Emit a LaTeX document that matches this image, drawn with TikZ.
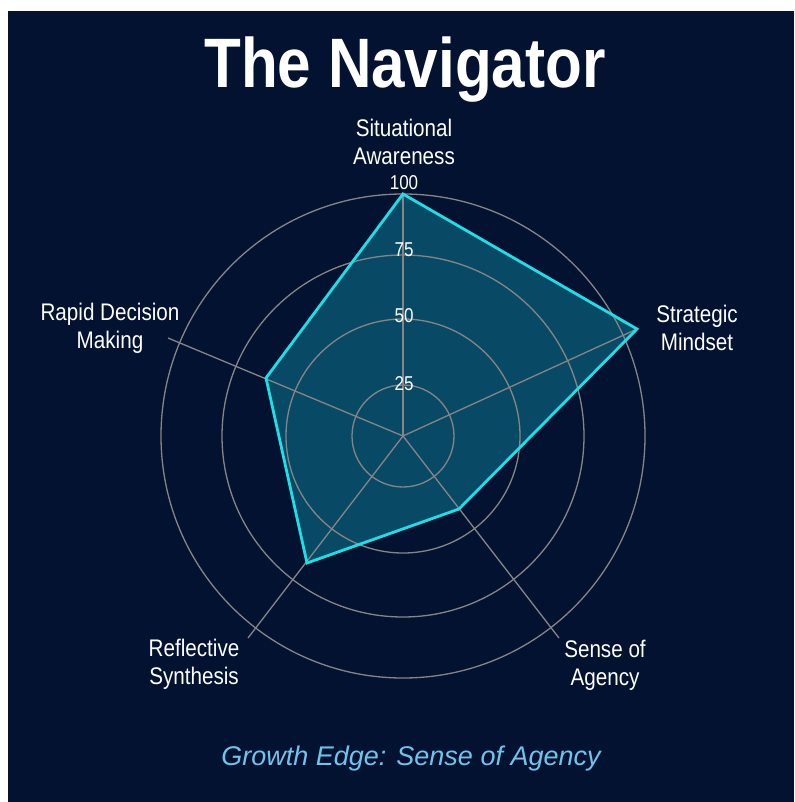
\documentclass[tikz,border=0pt]{standalone}
\usepackage{fontspec}
\setmainfont{Liberation Sans}
\newfontfamily\titlefont[FakeStretch=0.86]{Liberation Sans}
\newfontfamily\labfont[FakeStretch=0.86]{Liberation Sans}
\newfontfamily\tickfont[FakeStretch=0.85]{Liberation Sans}
\definecolor{navy}{RGB}{2,18,48}
\definecolor{gridc}{RGB}{135,132,135}
\definecolor{fillc}{RGB}{8,74,102}
\definecolor{cyanl}{RGB}{30,222,230}
\definecolor{subc}{RGB}{114,195,234}
\tikzset{
  gridline/.style={draw=gridc, line width=1.3pt},
  axislab/.style={text=white, align=center, font=\labfont\fontsize{24}{28}\selectfont, inner sep=0pt},
  ticklab/.style={text=white, font=\tickfont\fontsize{20}{22}\selectfont, inner sep=0pt},
}
\begin{document}
\begin{tikzpicture}[x=1pt,y=-1pt]
\useasboundingbox (0,0) rectangle (794,802);
\fill[white] (0,0) rectangle (794,802);
\fill[navy] (8,11) rectangle (794,802);

% centre, axis ends and data points
\coordinate (O) at (403,436);
\coordinate (aSA) at (403,194);
\coordinate (aSM) at (637,329);
\coordinate (aSoA) at (559,638);
\coordinate (aRS) at (248,638);
\coordinate (aRD) at (168,338);
\coordinate (pSA) at (403,194);
\coordinate (pSM) at (637,329);
\coordinate (pSoA) at (459,509);
\coordinate (pRS) at (307,563);
\coordinate (pRD) at (266,378);

% data fill
\fill[fillc] (pSA) -- (pSM) -- (pSoA) -- (pRS) -- (pRD) -- cycle;

% rings
\foreach \r in {51,117,181,242} \draw[gridline] (O) circle[radius=\r];
% axes
\foreach \e in {aSA,aSM,aSoA,aRS,aRD} \draw[gridline] (O) -- (\e);

% data outline
\draw[cyanl, line width=2.8pt, line join=miter] (pSA) -- (pSM) -- (pSoA) -- (pRS) -- (pRD) -- cycle;

% tick labels
\node[ticklab] (t100) at (404,183) {100};
\node[ticklab] (t75) at (404,250) {75};
\node[ticklab] (t50) at (404,316) {50};
\node[ticklab] (t25) at (404,384) {25};

% axis labels
\node[axislab] (lSA) at (404,142) {Situational\\Awareness};
\node[axislab] (lSM) at (697,328) {Strategic\\Mindset};
\node[axislab] (lRD) at (110,328) {Rapid Decision\\Making};
\node[axislab] (lRS) at (194,664) {Reflective\\Synthesis};
\node[axislab] (lSoA) at (605,665) {Sense of\\Agency};

% title and subtitle
\node[text=white, anchor=base, inner sep=0pt, font=\titlefont\bfseries\fontsize{70}{80}\selectfont] (title) at (405,88) {The Navigator};
\node[text=subc, anchor=base, inner sep=0pt, font=\itshape\fontsize{27}{30}\selectfont] (sub) at (411,765) {Growth Edge: Sense of Agency};
\end{tikzpicture}
\end{document}
